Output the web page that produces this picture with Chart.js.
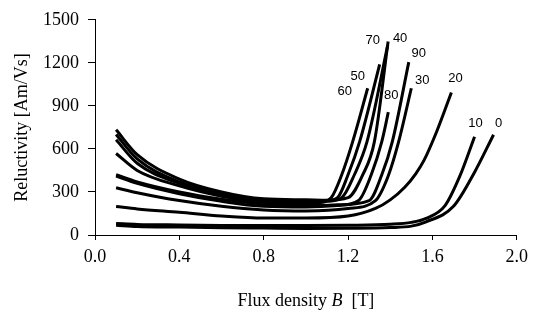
<!DOCTYPE html>
<html>
<head>
<meta charset="utf-8">
<script src="https://cdn.jsdelivr.net/npm/chart.js@4.4.1/dist/chart.umd.min.js"></script>
<style>
  body { margin: 0; background: #fff; }
</style>
</head>
<body>
<canvas id="myChart" width="534" height="315"></canvas>
<script>
// reluctivity curves, one per label (B in T, reluctivity in Am/Vs)

const curveNames = ['0', '10', '20', '30', '40', '50', '60', '70', '80', '90'];

const b0  = [0.10, 0.20, 0.40, 0.60, 0.80, 1.00, 1.20, 1.40, 1.50, 1.57, 1.70, 1.80, 1.89];
const r0  = [68, 60, 55, 50, 48, 46, 47, 52, 62, 92, 200, 438, 699];

const b10 = [0.10, 0.20, 0.40, 0.60, 0.80, 1.00, 1.20, 1.40, 1.50, 1.57, 1.66, 1.73, 1.80];
const r10 = [80, 74, 70, 67, 66, 66, 68, 75, 88, 116, 205, 410, 685];

const b20 = [0.10, 0.20, 0.40, 0.60, 0.80, 1.00, 1.20, 1.33, 1.40, 1.47, 1.52, 1.56, 1.62, 1.69];
const r20 = [199, 182, 158, 132, 118, 118, 132, 185, 245, 335, 425, 520, 720, 993];

const b30 = [0.10, 0.20, 0.40, 0.60, 0.80, 1.00, 1.20, 1.33, 1.39, 1.44, 1.50];
const r30 = [329, 295, 240, 200, 175, 168, 185, 240, 410, 651, 1023];

const b40 = [0.10, 0.20, 0.40, 0.60, 0.80, 1.00, 1.10, 1.20, 1.27, 1.325, 1.39];
const r40 = [733, 560, 390, 300, 252, 245, 242, 260, 420, 651, 1349];

const b50 = [0.10, 0.20, 0.40, 0.60, 0.80, 1.00, 1.10, 1.15, 1.20, 1.255, 1.35];
const r50 = [700, 530, 370, 290, 240, 235, 240, 260, 420, 651, 1190];

const b60 = [0.10, 0.20, 0.40, 0.60, 0.80, 1.00, 1.06, 1.12, 1.17, 1.222, 1.293];
const r60 = [568, 450, 342, 270, 225, 220, 225, 260, 420, 651, 1023];

const b70 = [0.10, 0.20, 0.40, 0.60, 0.80, 1.00, 1.10, 1.17, 1.23, 1.29, 1.388];
const r70 = [664, 500, 360, 285, 235, 230, 235, 260, 420, 651, 1322];

const b80 = [0.10, 0.20, 0.40, 0.60, 0.80, 1.00, 1.15, 1.25, 1.31, 1.36, 1.391];
const r80 = [411, 360, 288, 235, 200, 195, 205, 240, 420, 651, 856];

const b90 = [0.10, 0.20, 0.40, 0.60, 0.80, 1.00, 1.15, 1.30, 1.36, 1.41, 1.488];
const r90 = [420, 370, 300, 250, 215, 205, 210, 240, 420, 651, 1205];

const curveB = [b0, b10, b20, b30, b40, b50, b60, b70, b80, b90];
const curveR = [r0, r10, r20, r30, r40, r50, r60, r70, r80, r90];

const xTicks = [0, 0.4, 0.8, 1.2, 1.6, 2.0];
const yTicks = [0, 300, 600, 900, 1200, 1500];

// label offsets from curve end, px
const labelOffsets = [[5, -11], [1, -13], [4, -14], [11, -8], [12, -3], [-22, 12], [-23, 3], [-15, -5], [3, -17], [10, -9]];

const serif = "'Liberation Serif', 'Times New Roman', serif";

var datasets = curveNames.map(function (name, i) {
  return {
    label: name,
    data: curveB[i].map(function (b, j) { return { x: b, y: curveR[i][j] }; }),
    borderColor: '#000',
    borderWidth: 3,
    pointRadius: 0,
    fill: false,
    cubicInterpolationMode: 'monotone'
  };
});

// curve labels at the top of each line
const curveLabels = {
  id: 'curveLabels',
  afterDatasetsDraw(chart) {
    const ctx = chart.ctx;
    ctx.save();
    ctx.font = "13px 'Liberation Sans', Arial, sans-serif";
    ctx.fillStyle = '#000';
    ctx.textAlign = 'center';
    ctx.textBaseline = 'middle';
    chart.data.datasets.forEach(function (ds, i) {
      const last = ds.data[ds.data.length - 1];
      const px = chart.scales.x.getPixelForValue(last.x);
      const py = chart.scales.y.getPixelForValue(last.y);
      ctx.fillText(ds.label, px + labelOffsets[i][0], py + labelOffsets[i][1]);
    });
    ctx.restore();
  }
};

// x title with italic B
const xTitle = {
  id: 'xTitle',
  afterDraw(chart) {
    const ctx = chart.ctx;
    const area = chart.chartArea;
    const parts = [['Flux density ', 'normal'], ['B', 'italic'], ['  [T]', 'normal']];
    ctx.save();
    ctx.fillStyle = '#000';
    ctx.textBaseline = 'middle';
    ctx.textAlign = 'left';
    let total = 0;
    parts.forEach(function (p) {
      ctx.font = p[1] + ' 18px ' + serif;
      total += ctx.measureText(p[0]).width;
    });
    let x = (area.left + area.right) / 2 - total / 2;
    parts.forEach(function (p) {
      ctx.font = p[1] + ' 18px ' + serif;
      ctx.fillText(p[0], x, 301);
      x += ctx.measureText(p[0]).width;
    });
    ctx.restore();
  }
};

new Chart(document.getElementById('myChart'), {
  type: 'line',
  data: { datasets: datasets },
  options: {
    responsive: false,
    animation: false,
    devicePixelRatio: 1,
    layout: { padding: { top: 16, right: 11, left: 0, bottom: 0 } },
    plugins: {
      legend: { display: false },
      tooltip: { enabled: false }
    },
    scales: {
      x: {
        type: 'linear',
        min: 0,
        max: 2,
        afterFit: function (scale) { scale.height = 80; },
        afterBuildTicks: function (scale) { scale.ticks = xTicks.map(function (v) { return { value: v }; }); },
        ticks: {
          color: '#000',
          padding: 6,
          maxRotation: 0,
          font: { family: serif, size: 18 },
          callback: function (v) { return Number(v).toFixed(1); }
        },
        grid: { display: true, drawOnChartArea: false, drawTicks: true, tickLength: 5, color: '#000' },
        border: { display: true, color: '#000', width: 1 }
      },
      y: {
        type: 'linear',
        min: 0,
        max: 1500,
        afterFit: function (scale) { scale.width = 95; },
        afterBuildTicks: function (scale) { scale.ticks = yTicks.map(function (v) { return { value: v }; }); },
        ticks: {
          color: '#000',
          padding: 9,
          font: { family: serif, size: 18 },
          callback: function (v) { return String(v); }
        },
        title: {
          display: true,
          text: 'Reluctivity [Am/Vs]',
          color: '#000',
          font: { family: serif, size: 18 },
          padding: { top: 11, bottom: 0 }
        },
        grid: { display: true, drawOnChartArea: false, drawTicks: true, tickLength: 7, color: '#000' },
        border: { display: true, color: '#000', width: 1 }
      }
    }
  },
  plugins: [curveLabels, xTitle]
});
</script>
</body>
</html>
